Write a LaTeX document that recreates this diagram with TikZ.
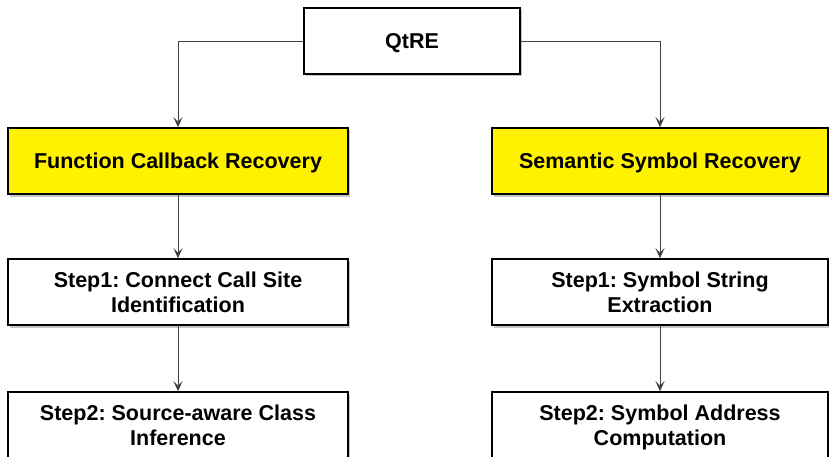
\documentclass[tikz,border=0pt]{standalone}
\usepackage{fontspec}
\setmainfont{Liberation Sans}
\frenchspacing
\usetikzlibrary{arrows.meta,shadows}
\begin{document}
\begin{tikzpicture}[x=1pt,y=-1pt,
  box/.style={draw=black, line width=1.6pt, fill=white, minimum height=66pt,
    align=center, font=\fontsize{21.5}{25.5}\selectfont\bfseries, inner sep=0pt,
    text depth=0pt,
    drop shadow={shadow xshift=2pt, shadow yshift=-2.5pt, opacity=0.45}},
  headbox/.style={box, fill=yellow},
  link/.style={draw=black!75, line width=0.9pt,
    -{Stealth[length=10pt, width=9pt, inset=4.5pt]}}]
  \useasboundingbox (0,0) rectangle (829,457);

  \node[box, minimum width=216pt] (root) at (412,41) {QtRE};

  \node[headbox, minimum width=340pt] (fcr) at (178,161) {Function Callback Recovery};
  \node[headbox, minimum width=336pt] (ssr) at (660,161) {Semantic Symbol Recovery};

  \node[box, minimum width=340pt] (f1) at (178,292) {Step1: Connect Call Site\\Identification};
  \node[box, minimum width=336pt] (s1) at (660,292) {Step1: Symbol String\\Extraction};

  \node[box, minimum width=340pt] (f2) at (178,425) {Step2: Source-aware Class\\Inference};
  \node[box, minimum width=336pt] (s2) at (660,425) {Step2: Symbol Address\\Computation};

  \draw[link] (root.west) -| (fcr.north);
  \draw[link] (root.east) -| (ssr.north);
  \draw[link] (fcr.south) -- (f1.north);
  \draw[link] (ssr.south) -- (s1.north);
  \draw[link] (f1.south) -- (f2.north);
  \draw[link] (s1.south) -- (s2.north);
\end{tikzpicture}
\end{document}
